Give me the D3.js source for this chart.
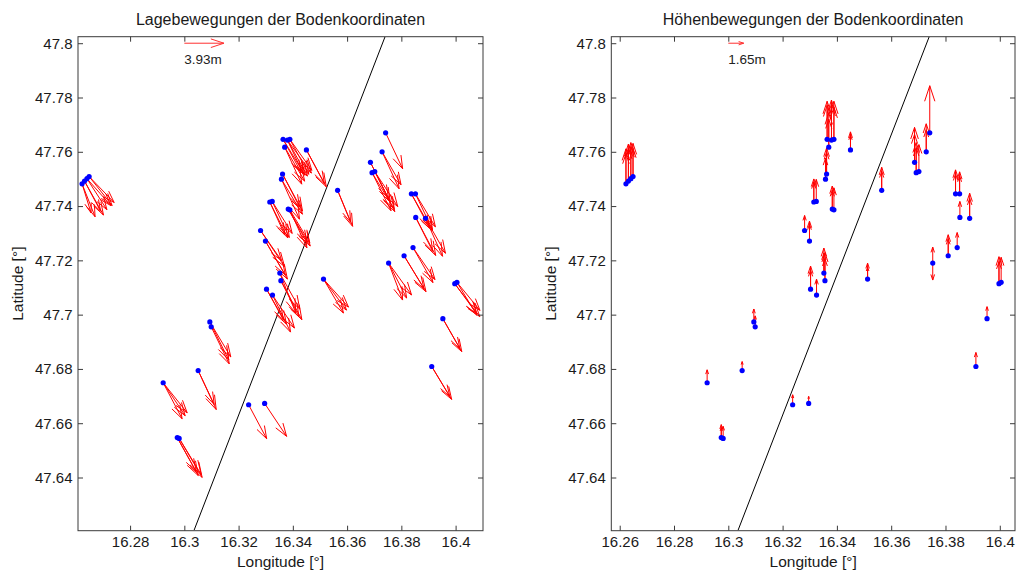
<!DOCTYPE html>
<html><head><meta charset="utf-8">
<script src="https://cdn.jsdelivr.net/npm/d3@7"></script>
<style>body{margin:0;background:#fff} text{font-family:"Liberation Sans",Arial,sans-serif}</style>
</head><body><svg id="c" width="1016" height="572"></svg>
<script>
// ---- DATA ----
const stationLon = [16.2623,16.2632,16.2641,16.2649,16.3364,16.3380,16.3389,16.3370,16.3450,16.3565,
  16.3362,16.3358,16.3315,16.3324,16.3383,16.3389,16.3281,16.3299,16.3352,16.3356,
  16.3303,16.3325,16.3513,16.3742,16.3729,16.3686,16.3692,16.3702,16.3837,16.3852,
  16.3853,16.3889,16.3843,16.3810,16.3753,16.3997,16.4005,16.3953,16.3094,16.3099,
  16.3051,16.2922,16.2974,16.2981,16.3237,16.3296,16.3912];
const stationLat = [47.7482,47.7492,47.7501,47.7509,47.7646,47.7643,47.7646,47.7617,47.7607,47.7458,
  47.7518,47.7499,47.7415,47.7417,47.7389,47.7386,47.7310,47.7271,47.7153,47.7125,
  47.7094,47.7072,47.7131,47.7670,47.7600,47.7561,47.7523,47.7527,47.7445,47.7445,
  47.7358,47.7355,47.7247,47.7217,47.7190,47.7114,47.7119,47.6985,47.6973,47.6955,
  47.6794,47.6749,47.6547,47.6544,47.6668,47.6673,47.6809];
// horizontal movement per epoch (m)
const moveEast = [[0.89,1.29],[1.88,1.59],[2.38,1.98],[2.28,2.48],[1.79,2.18],[1.98,1.59,2.38],[1.88,2.18],[1.98,1.69],[1.98,1.79],[1.49,1.29],
  [1.98,1.69],[1.79,2.08],[1.49,1.79],[1.69,1.98],[1.88,2.18],[1.69,1.98],[2.08,2.38],[1.98,2.18],[1.59,1.98],[1.79,2.08],
  [1.98,1.69],[1.79,2.18],[2.28,1.98,2.48],[1.69],[1.88,1.69],[1.98,1.79],[2.18,1.88],[1.98,2.28],[1.79,2.08],[1.69,1.98],
  [1.69,1.98],[1.98,1.69],[2.18,1.98],[2.18,1.98],[2.28,1.39,1.79],[2.18,2.48],[1.98,2.28],[1.88,1.69],[1.88,2.08],[1.79],
  [1.79,1.59],[2.18,1.88,2.38],[2.08,1.88],[2.18,2.28],[1.79],[2.18],[1.98,1.79]];
const moveNorth = [[-2.88,-3.27],[-3.37,-2.98],[-2.68,-3.08],[-2.88,-2.58],[-3.27,-3.57],[-3.57,-3.37,-3.27],[-3.47,-3.08],[-3.37,-3.67],[-3.67,-3.37],[-3.57,-3.17],
  [-3.67,-3.27],[-3.97,-3.47],[-3.27,-3.57],[-3.57,-3.17],[-3.37,-3.67],[-3.77,-3.27],[-2.98,-3.57],[-3.37,-3.77],[-3.97,-3.57],[-3.57,-3.87],
  [-3.47,-3.08],[-3.67,-3.27],[-3.08,-3.37,-2.78],[-3.57],[-3.27,-3.67],[-3.97,-3.57],[-3.57,-3.77],[-3.97,-3.47],[-3.37,-3.67],[-3.57,-3.27],
  [-3.37,-3.77],[-3.47,-3.77],[-3.17,-3.47],[-3.57,-3.27],[-3.17,-3.67,-3.47],[-2.98,-3.27],[-3.27,-2.78],[-3.27,-2.98],[-3.77,-3.47],[-3.67],
  [-3.87,-3.37],[-3.27,-3.57,-2.98],[-3.77,-3.37],[-3.57,-3.87],[-3.37],[-3.27],[-3.27,-2.98]];
// vertical movement per epoch (m)
const moveUp = [[3.75,3.22],[3.97,3.54],[3.86,3.43],[3.54,3.00],[4.07,3.64],[4.29,3.86],[4.07,3.43],[3.64,3.00],[1.93,1.61],[2.47,2.04],
  [2.79,2.36],[2.25],[2.47,2.14],[2.36],[2.47,2.04],[2.36],[1.61],[2.14,1.82],[2.14,2.68],[3.00,2.36],
  [2.47,2.04],[1.71],[1.71,1.29],[5.04],[3.00,2.36],[3.75,3.00],[3.22,2.68],[2.89],[2.14,2.57],[2.36,1.93],
  [1.71],[2.68,2.14],[1.61],[2.25,1.82],[1.71,-1.82],[2.89,2.36],[2.68],[1.29],[1.39],[1.18],
  [0.96],[1.39],[1.39,1.07],[1.29],[1.07],[0.75],[1.50]];
const refArrow = [3.93, 1.65];
const refLabels = ["3.93m", "1.65m"];
const titles = ["Lagebewegungen der Bodenkoordinaten", "Höhenbewegungen der Bodenkoordinaten"];
const xTicksLeft = [16.28,16.3,16.32,16.34,16.36,16.38,16.4];
const xTicksRight = [16.26,16.28,16.3,16.32,16.34,16.36,16.38,16.4];
const yTicks = [47.64,47.66,47.68,47.7,47.72,47.74,47.76,47.78,47.8];
const lineLon = [16.3036, 16.3740];
const lineLat = [47.6206, 47.8024];

// ---- DRAW ----
const svg = d3.select("#c");
const yTop = 36.7, yBot = 530.7;
const yDomain = [47.6204, 47.8024];

function panel(cfg, idx) {
  const xs = d3.scaleLinear().domain(cfg.xDomain).range([cfg.x0, cfg.x1]);
  const ys = d3.scaleLinear().domain(yDomain).range([yBot, yTop]);
  const vs = d3.scaleLinear().domain([0, refArrow[idx]]).range([0, cfg.refPx]);
  const g = svg.append("g");
  const clipId = "clip" + idx;
  svg.append("clipPath").attr("id", clipId).append("rect")
    .attr("x", cfg.x0).attr("y", yTop).attr("width", cfg.x1 - cfg.x0).attr("height", yBot - yTop);
  const plot = g.append("g").attr("clip-path", `url(#${clipId})`);

  plot.append("line")
    .attr("x1", xs(lineLon[0])).attr("y1", ys(lineLat[0]))
    .attr("x2", xs(lineLon[1])).attr("y2", ys(lineLat[1]))
    .attr("stroke", "#000").attr("stroke-width", 1);

  function arrowPath(x, y, u, v) {
    const a = 0.33, b = 0.33;
    const tx = x + u, ty = y + v;
    const h1x = tx - a * (u + b * v), h1y = ty - a * (v - b * u);
    const h2x = tx - a * (u - b * v), h2y = ty - a * (v + b * u);
    return `M${x},${y}L${tx},${ty}M${h1x},${h1y}L${tx},${ty}L${h2x},${h2y}`;
  }

  const arrows = [];
  stationLon.forEach((lon, i) => {
    const x = xs(lon), y = ys(stationLat[i]);
    if (cfg.mode === "h") {
      moveEast[i].forEach((e, k) => arrows.push(arrowPath(x, y, vs(e), -vs(moveNorth[i][k]))));
    } else {
      moveUp[i].forEach(u => arrows.push(arrowPath(x, y, 0, -vs(u))));
    }
  });
  plot.append("g").selectAll("path").data(arrows).join("path")
    .attr("d", d => d).attr("fill", "none").attr("stroke", "#ff0000").attr("stroke-width", 1);

  plot.append("g").selectAll("circle").data(stationLon).join("circle")
    .attr("cx", d => xs(d)).attr("cy", (d, i) => ys(stationLat[i]))
    .attr("r", 2.6).attr("fill", "#0000ff");

  // reference arrow
  const rx = xs(16.3), ry = ys(47.8);
  g.append("path").attr("d", arrowPath(rx, ry, vs(refArrow[idx]), 0))
    .attr("fill", "none").attr("stroke", "#ff3030").attr("stroke-width", 1);
  g.append("text").attr("x", rx).attr("y", 63.5).attr("font-size", 13.5).attr("fill", "#222")
    .text(refLabels[idx]);

  // axes box with inward ticks
  const axc = "#3a3a3a";
  const fmt = d => String(d);
  const bx = g.append("g").attr("transform", `translate(0,${yBot})`)
    .call(d3.axisBottom(xs).tickValues(cfg.xTicks).tickFormat(fmt).tickSizeInner(-5).tickSizeOuter(0).tickPadding(6));
  const tx = g.append("g").attr("transform", `translate(0,${yTop})`)
    .call(d3.axisTop(xs).tickValues(cfg.xTicks).tickFormat("").tickSizeInner(-5).tickSizeOuter(0));
  const ly = g.append("g").attr("transform", `translate(${cfg.x0},0)`)
    .call(d3.axisLeft(ys).tickValues(yTicks).tickFormat(fmt).tickSizeInner(-5).tickSizeOuter(0).tickPadding(5.5));
  const ry2 = g.append("g").attr("transform", `translate(${cfg.x1},0)`)
    .call(d3.axisRight(ys).tickValues(yTicks).tickFormat("").tickSizeInner(-5).tickSizeOuter(0));
  [bx, tx, ly, ry2].forEach(a => {
    a.select(".domain").remove();
    a.selectAll("line").attr("stroke", axc);
    a.selectAll("text").attr("font-size", 15).attr("fill", "#1a1a1a")
      .attr("font-family", '"Liberation Sans", Arial, sans-serif');
  });
  g.append("rect").attr("x", cfg.x0).attr("y", yTop).attr("width", cfg.x1 - cfg.x0).attr("height", yBot - yTop)
    .attr("fill", "none").attr("stroke", axc).attr("stroke-width", 1);

  const cx = (cfg.x0 + cfg.x1) / 2;
  g.append("text").attr("x", cx).attr("y", 25).attr("text-anchor", "middle").attr("font-size", 16)
    .attr("fill", "#1a1a1a").text(titles[idx]);
  g.append("text").attr("x", cx).attr("y", 567).attr("text-anchor", "middle").attr("font-size", 15.5)
    .attr("fill", "#1a1a1a").text("Longitude [°]");
  g.append("text").attr("transform", `translate(${cfg.x0 - 55},${(yTop + yBot) / 2}) rotate(-90)`)
    .attr("text-anchor", "middle").attr("font-size", 15.5).attr("fill", "#1a1a1a").text("Latitude [°]");
}

panel({x0: 78, x1: 483, xDomain: [16.2608, 16.4101], xTicks: xTicksLeft, mode: "h", refPx: 39.6}, 0);
panel({x0: 611.3, x1: 1015, xDomain: [16.2569, 16.4056], xTicks: xTicksRight, mode: "v", refPx: 15.4}, 1);
</script></body></html>
